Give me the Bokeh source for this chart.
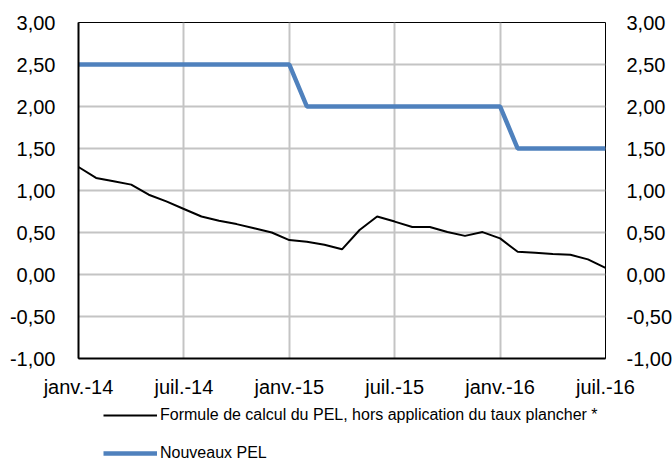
from bokeh.plotting import figure
from bokeh.layouts import column
from bokeh.models import (LinearAxis, Range1d, FixedTicker, CustomJSTickFormatter,
                          Legend, LegendItem, ColumnDataSource)
from bokeh.embed import file_html
from bokeh.resources import INLINE

# ---- data ----
months = list(range(31))  # janv.-14 (0) ... juil.-16 (30)
formule = [1.28, 1.15, 1.11, 1.07, 0.95, 0.87, 0.78, 0.69, 0.64, 0.60,
           0.55, 0.50, 0.41, 0.39, 0.355, 0.30, 0.53, 0.69, 0.63, 0.565,
           0.565, 0.505, 0.46, 0.505, 0.43, 0.27, 0.26, 0.245, 0.235, 0.18,
           0.08]
nouveaux = [2.50, 2.50, 2.50, 2.50, 2.50, 2.50, 2.50, 2.50, 2.50, 2.50,
            2.50, 2.50, 2.50, 2.00, 2.00, 2.00, 2.00, 2.00, 2.00, 2.00,
            2.00, 2.00, 2.00, 2.00, 2.00, 1.50, 1.50, 1.50, 1.50, 1.50,
            1.50]
x_tick_pos = [0, 6, 12, 18, 24, 30]
x_tick_labels = ["janv.-14", "juil.-14", "janv.-15", "juil.-15", "janv.-16", "juil.-16"]
y_ticks = [-1.0, -0.5, 0.0, 0.5, 1.0, 1.5, 2.0, 2.5, 3.0]
label_formule = "Formule de calcul du PEL, hors application du taux plancher *"
label_nouveaux = "Nouveaux PEL"

FONT = "Liberation Sans"
TICK_SIZE = "20px"
BLACK_STYLE = dict(line_color="black", line_width=2)
BLUE_STYLE = dict(line_color="#4f81bd", line_width=4.5)

src = ColumnDataSource(dict(m=months, f=formule, n=nouveaux))

p = figure(frame_width=527, frame_height=336, output_backend="svg", toolbar_location=None,
           x_range=Range1d(months[0], months[-1]), y_range=Range1d(-1, 3),
           min_border_left=78, min_border_right=65, min_border_top=22,
           min_border_bottom=42)
p.background_fill_color = "white"
p.border_fill_color = "white"
p.outline_line_color = "black"
p.outline_line_width = 1

yfmt = CustomJSTickFormatter(code="return tick.toFixed(2).replace('.', ',');")

# left axis
p.yaxis.ticker = FixedTicker(ticks=y_ticks)
p.yaxis.formatter = yfmt
p.yaxis.axis_line_color = "black"
p.yaxis.axis_line_width = 2
p.yaxis.major_tick_line_color = None
p.yaxis.minor_tick_line_color = None
p.yaxis.major_label_standoff = 17
p.yaxis.major_label_text_font = FONT
p.yaxis.major_label_text_font_size = TICK_SIZE
p.yaxis.major_label_text_color = "black"

# right axis
ry = LinearAxis(ticker=FixedTicker(ticks=y_ticks), formatter=yfmt)
ry.axis_line_color = None
ry.major_tick_line_color = None
ry.minor_tick_line_color = None
ry.major_label_standoff = 15
ry.major_label_text_font = FONT
ry.major_label_text_font_size = TICK_SIZE
ry.major_label_text_color = "black"
p.add_layout(ry, "right")

# x axis
xt = FixedTicker(ticks=x_tick_pos)
p.xaxis.ticker = xt
p.xaxis.major_label_overrides = {k: v for k, v in zip(x_tick_pos, x_tick_labels)}
p.xaxis.axis_line_color = "black"
p.xaxis.axis_line_width = 2
p.xaxis.major_tick_line_color = None
p.xaxis.minor_tick_line_color = None
p.xaxis.major_label_standoff = 11
p.xaxis.major_label_text_font = FONT
p.xaxis.major_label_text_font_size = TICK_SIZE
p.xaxis.major_label_text_color = "black"

p.xgrid.ticker = xt
p.xgrid.grid_line_color = "#c4c4c4"
p.xgrid.grid_line_width = 2
p.ygrid.grid_line_color = "#c4c4c4"
p.ygrid.grid_line_width = 2

p.line("m", "n", source=src, **BLUE_STYLE)
p.line("m", "f", source=src, **BLACK_STYLE)

# ---- legend strip below the chart (same line styles, legend only) ----
p2 = figure(frame_width=527, frame_height=62, output_backend="svg", toolbar_location=None,
            x_range=Range1d(100, 101), y_range=Range1d(100, 101),
            min_border_left=78, min_border_right=65, min_border_top=0,
            min_border_bottom=0)
p2.axis.visible = False
p2.grid.visible = False
p2.outline_line_color = None
p2.background_fill_color = "white"
p2.border_fill_color = "white"
lsrc = ColumnDataSource(dict(x=months[:1], f=formule[:1], n=nouveaux[:1]))
lr_black = p2.line("x", "f", source=lsrc, **BLACK_STYLE)
lr_blue = p2.line("x", "n", source=lsrc, **BLUE_STYLE)

legend = Legend(items=[LegendItem(label=label_formule, renderers=[lr_black]),
                       LegendItem(label=label_nouveaux, renderers=[lr_blue])],
                orientation="vertical", location=(25, 0),
                glyph_width=54, glyph_height=18, label_height=18,
                label_standoff=3, spacing=20, padding=0, margin=0,
                label_text_font=FONT, label_text_font_size="16px",
                label_text_color="black",
                background_fill_alpha=0, border_line_alpha=0)
p2.add_layout(legend)

open("out.html", "w").write(file_html(column(p, p2, spacing=0), INLINE))
